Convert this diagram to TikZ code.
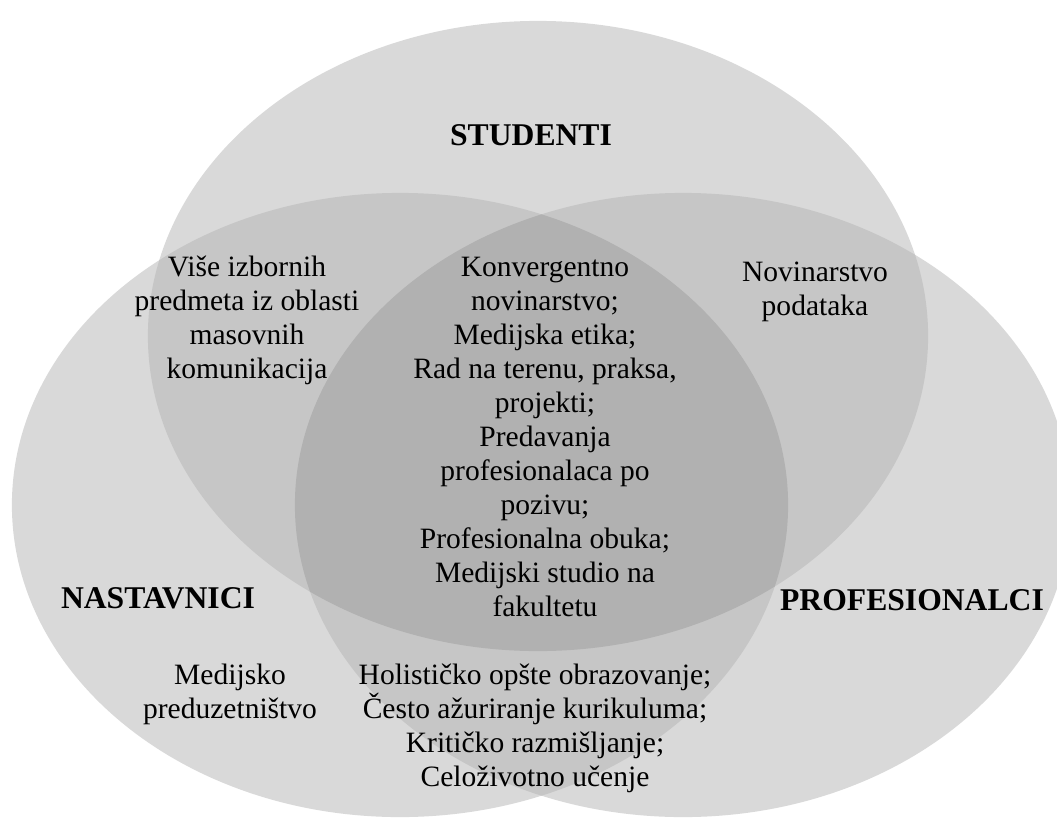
\documentclass[tikz,border=0pt]{standalone}
\usepackage{fontspec}
\setmainfont{Liberation Serif}
\usepackage{tikz}
\definecolor{greyone}{gray}{0.85}
\definecolor{greytwo}{gray}{0.775}
\definecolor{greythree}{gray}{0.695}
\def\studell{(538, 336) ellipse [x radius=9.75cm, y radius=7.875cm]}
\def\nastell{(400, 505) ellipse [x radius=9.7cm, y radius=7.8cm]}
\def\profell{(683, 505) ellipse [x radius=9.7cm, y radius=7.8cm]}
\tikzset{
	setlabel/.style={font=\fontsize{22.5}{26}\selectfont\bfseries, inner sep=0pt},
	settext/.style={align=center, font=\fontsize{21}{24.2}\selectfont, inner sep=0pt}
}

\begin{document}
\begin{tikzpicture}[x=0.025cm, y=-0.025cm]
		%%%%% START %%%%%
		
		\clip (0, 0) rectangle (1057, 821);
		
		\fill[greyone] \studell;
		\fill[greyone] \nastell;
		\fill[greyone] \profell;
		
		\begin{scope}
			\clip \studell;
			\fill[greytwo] \nastell;
			\fill[greytwo] \profell;
		\end{scope}
		\begin{scope}
			\clip \nastell;
			\fill[greytwo] \profell;
		\end{scope}
		\begin{scope}
			\clip \studell;
			\clip \nastell;
			\fill[greythree] \profell;
		\end{scope}
		
		\node[setlabel] (studenti) at (531, 135) {STUDENTI};
		\node[setlabel] (nastavnici) at (158, 598) {NASTAVNICI};
		\node[setlabel] (profesionalci) at (912, 600) {PROFESIONALCI};
		
		\node[settext] (izborni) at (247, 320) {Više izbornih\\predmeta iz oblasti\\masovnih\\komunikacija};
		\node[settext] (podaci) at (815, 292) {Novinarstvo\\podataka};
		\node[settext] (zajedno) at (545, 437) {Konvergentno\\novinarstvo;\\Medijska etika;\\Rad na terenu, praksa,\\projekti;\\Predavanja\\profesionalaca po\\pozivu;\\Profesionalna obuka;\\Medijski studio na\\fakultetu};
		\node[settext] (preduzetnistvo) at (230, 694) {Medijsko\\preduzetništvo};
		\node[settext] (obrazovanje) at (535, 728) {Holističko opšte obrazovanje;\\Često ažuriranje kurikuluma;\\Kritičko razmišljanje;\\Celoživotno učenje};
		
		%%%%% END %%%%%
	\end{tikzpicture}
\end{document}
